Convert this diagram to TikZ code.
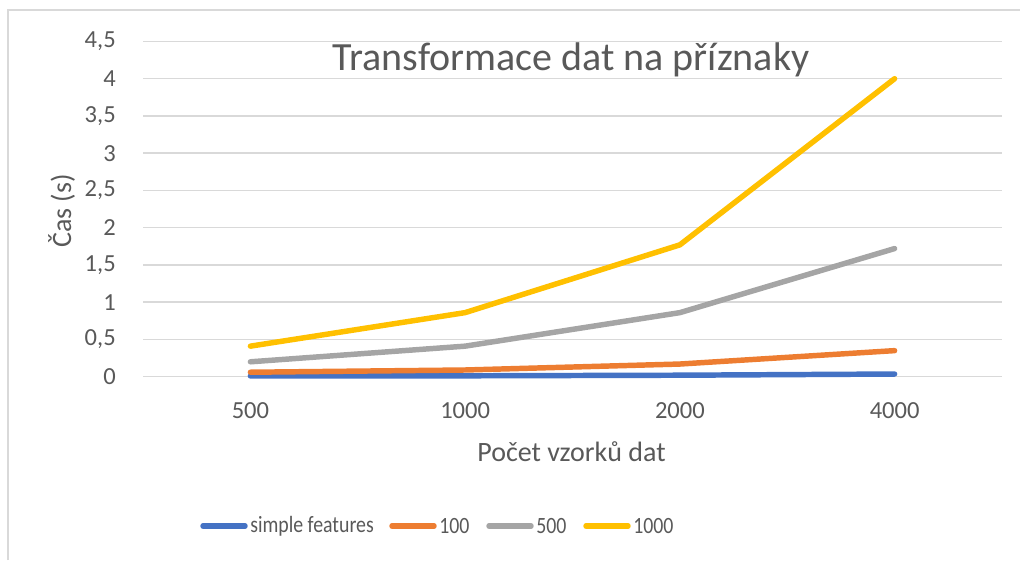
\documentclass[tikz,border=0pt]{standalone}
\usepackage{fontspec}
\setmainfont{Carlito}
\newfontfamily\legendfont[FakeStretch=0.85]{Carlito}
\usetikzlibrary{positioning}
\usetikzlibrary{calc}

\definecolor{gridgrey}{RGB}{217,217,217}
\definecolor{labelgrey}{RGB}{89,89,89}
\definecolor{simpleblue}{RGB}{68,114,196}
\definecolor{hundredorange}{RGB}{237,125,49}
\definecolor{fivehundredgrey}{RGB}{165,165,165}
\definecolor{thousandyellow}{RGB}{255,192,0}

\tikzset{
  frameline/.style={draw=gridgrey, line width=1.5pt},
  gridline/.style={draw=gridgrey, line width=1.1pt},
  seriesline/.style={line width=4.1pt, line cap=round, line join=round},
  ticklabel/.style={text=labelgrey, inner sep=0.75pt, font=\fontsize{18.4}{20}\selectfont},
  axislabel/.style={text=labelgrey, inner sep=0.75pt, font=\fontsize{21}{24}\selectfont},
  charttitle/.style={text=labelgrey, inner sep=0.75pt, font=\fontsize{30}{34}\selectfont},
  legendlabel/.style={text=labelgrey, inner sep=0.75pt, font=\legendfont\fontsize{17.5}{20}\selectfont},
}
% value -> pixel row of the plot
\newcommand{\valy}[1]{376.7-74.5*#1}

\begin{document}
\begin{tikzpicture}[x=0.75pt,y=0.75pt,yscale=-1,xscale=1]
\useasboundingbox (0,0) rectangle (1020,560);

%Chart frame
\draw [frameline] (8,560) -- (8,10) -- (1020,10) ;

%Grid lines
\foreach \k in {0,...,9}
  \draw [gridline] (143,{376.7-37.25*\k}) -- (1002,{376.7-37.25*\k}) ;

% Y tick labels
\foreach \k/\lab in {0/0,1/0{,}5,2/1,3/1{,}5,4/2,5/2{,}5,6/3,7/3{,}5,8/4,9/4{,}5}
  \node [ticklabel, anchor=east] (ytick\k) at (117,{376.7-37.25*\k}) {\lab};

% X tick labels
\foreach \i/\lab in {0/500,1/1000,2/2000,3/4000}
  \node [ticklabel, anchor=base] (xtick\i) at ({250.4+214.75*\i},418) {\lab};

%Series: simple features
\draw [seriesline, simpleblue] (250.4,{\valy{0.01}}) -- (465.1,{\valy{0.012}}) -- (679.9,{\valy{0.02}}) -- (894.6,{\valy{0.036}}) ;
%Series: 100
\draw [seriesline, hundredorange] (250.4,{\valy{0.06}}) -- (465.1,{\valy{0.09}}) -- (679.9,{\valy{0.17}}) -- (894.6,{\valy{0.35}}) ;
%Series: 500
\draw [seriesline, fivehundredgrey] (250.4,{\valy{0.20}}) -- (465.1,{\valy{0.41}}) -- (679.9,{\valy{0.86}}) -- (894.6,{\valy{1.72}}) ;
%Series: 1000
\draw [seriesline, thousandyellow] (250.4,{\valy{0.41}}) -- (465.1,{\valy{0.86}}) -- (679.9,{\valy{1.77}}) -- (894.6,{\valy{4.00}}) ;

% Text Node
\node [charttitle, anchor=base] (title) at (571,70) {Transformace dat na příznaky};
% Text Node
\node [axislabel, anchor=base] (xtitle) at (571.5,461.7) {Počet vzorků dat};
% Text Node
\node [axislabel, anchor=base, rotate=90] (ytitle) at (71,211) {Čas (s)};

%Legend
\node [legendlabel, anchor=west] (legsimple) at (249,526) {simple features};
\draw [seriesline, simpleblue] ($(legsimple.west)+(-4,0)$) -- ++(-42,0) ;
\node [legendlabel, anchor=west] (leghundred) at (438,526) {100};
\draw [seriesline, hundredorange] ($(leghundred.west)+(-4,0)$) -- ++(-42,0) ;
\node [legendlabel, anchor=west] (legfivehundred) at (535,526) {500};
\draw [seriesline, fivehundredgrey] ($(legfivehundred.west)+(-4,0)$) -- ++(-42,0) ;
\node [legendlabel, anchor=west] (legthousand) at (632,526) {1000};
\draw [seriesline, thousandyellow] ($(legthousand.west)+(-4,0)$) -- ++(-42,0) ;

\end{tikzpicture}
\end{document}
